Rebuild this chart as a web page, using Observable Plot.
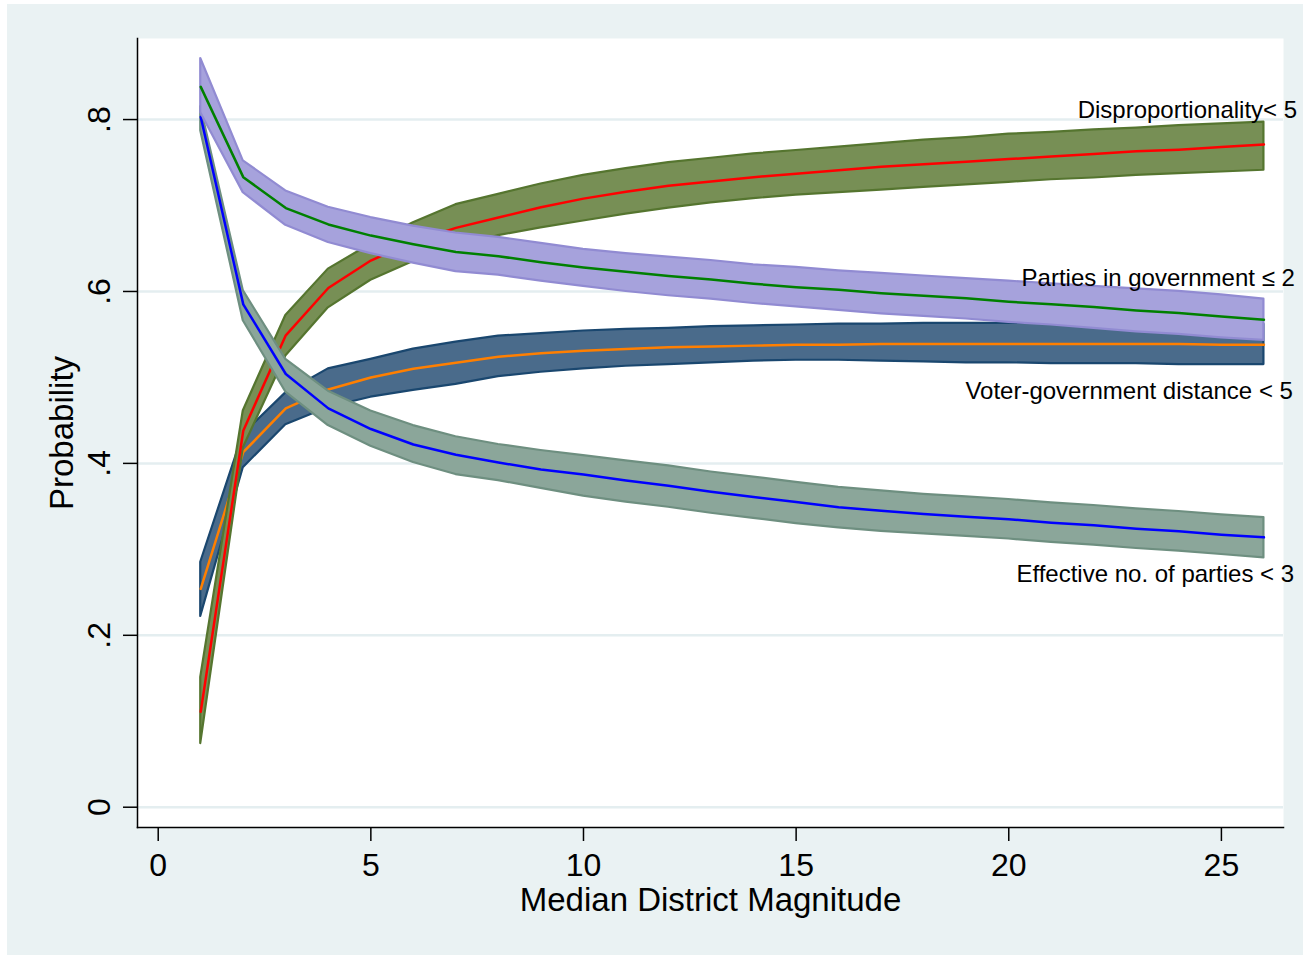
<!DOCTYPE html>
<html><head><meta charset="utf-8">
<script src="https://cdn.jsdelivr.net/npm/d3@7"></script>
<script src="https://cdn.jsdelivr.net/npm/@observablehq/plot@0.6"></script>
<style>
html,body{margin:0;padding:0;background:#fff;overflow:hidden;width:1303px;height:955px;}
#chart{position:absolute;left:7px;top:4px;}
</style></head><body><div id="chart"></div>
<script>
// Median district magnitude (x values)
const magnitude = [1,2,3,4,5,6,7,8,9,10,11,12,13,14,15,16,17,18,19,20,21,22,23,24,25,26];

// Disproportionality < 5
const dispMid = [0.111,0.438,0.549,0.604,0.636,0.658,0.674,0.686,0.698,0.708,0.716,0.723,0.728,0.733,0.737,0.741,0.745,0.748,0.751,0.754,0.757,0.760,0.763,0.765,0.768,0.771];
const dispHi  = [0.151,0.461,0.572,0.626,0.655,0.680,0.701,0.713,0.725,0.735,0.743,0.750,0.755,0.760,0.764,0.768,0.772,0.776,0.779,0.783,0.785,0.788,0.790,0.793,0.795,0.797];
const dispLo  = [0.074,0.418,0.525,0.581,0.613,0.635,0.650,0.665,0.674,0.682,0.690,0.697,0.703,0.708,0.712,0.715,0.718,0.721,0.724,0.727,0.730,0.732,0.735,0.737,0.739,0.741];

// Parties in government <= 2
const partMid = [0.838,0.733,0.697,0.678,0.665,0.655,0.646,0.641,0.634,0.628,0.623,0.618,0.614,0.609,0.605,0.602,0.598,0.595,0.592,0.588,0.585,0.582,0.578,0.575,0.571,0.567];
const partHi  = [0.871,0.752,0.717,0.698,0.686,0.676,0.668,0.663,0.656,0.649,0.644,0.640,0.636,0.631,0.628,0.624,0.621,0.618,0.615,0.612,0.609,0.606,0.603,0.600,0.596,0.591];
const partLo  = [0.808,0.715,0.677,0.657,0.644,0.633,0.623,0.619,0.612,0.606,0.600,0.595,0.591,0.586,0.582,0.578,0.574,0.571,0.568,0.564,0.561,0.557,0.553,0.550,0.546,0.543];

// Voter-government distance < 5
const voterMid = [0.254,0.413,0.464,0.486,0.500,0.510,0.517,0.524,0.528,0.531,0.533,0.535,0.536,0.537,0.538,0.538,0.539,0.539,0.539,0.539,0.539,0.539,0.539,0.539,0.538,0.538];
const voterHi  = [0.285,0.434,0.482,0.510,0.521,0.533,0.541,0.548,0.551,0.554,0.556,0.557,0.559,0.560,0.561,0.562,0.562,0.563,0.563,0.563,0.563,0.563,0.563,0.563,0.562,0.562];
const voterLo  = [0.222,0.395,0.445,0.465,0.477,0.485,0.492,0.501,0.506,0.510,0.513,0.515,0.517,0.519,0.520,0.520,0.519,0.518,0.517,0.517,0.516,0.516,0.516,0.515,0.515,0.515];

// Effective no. of parties < 3
const effMid = [0.803,0.585,0.504,0.464,0.440,0.422,0.410,0.401,0.393,0.387,0.380,0.374,0.367,0.361,0.355,0.349,0.345,0.341,0.338,0.335,0.331,0.328,0.324,0.321,0.317,0.314];
const effHi  = [0.815,0.601,0.521,0.484,0.461,0.444,0.431,0.422,0.415,0.409,0.403,0.397,0.390,0.384,0.378,0.372,0.368,0.364,0.361,0.358,0.354,0.351,0.347,0.344,0.340,0.337];
const effLo  = [0.787,0.566,0.483,0.444,0.420,0.401,0.387,0.380,0.371,0.362,0.355,0.349,0.342,0.336,0.330,0.325,0.321,0.318,0.315,0.312,0.308,0.305,0.301,0.298,0.294,0.290];

// Series labels and their anchor points (data units)
const labelText = ["Disproportionality< 5", "Parties in government \u2264 2", "Voter-government distance < 5", "Effective no. of parties < 3"];
const labelX = [21.62, 20.3, 18.98, 20.18];
const labelY = [0.8105, 0.615, 0.4836, 0.2708];

const xTicks = [0, 5, 10, 15, 20, 25];
const yTicks = [0, 0.2, 0.4, 0.6, 0.8];

const rows = (mid, lo, hi) => magnitude.map((x, i) => ({x, mid: mid[i], lo: lo[i], hi: hi[i]}));
const disp = rows(dispMid, dispLo, dispHi);
const part = rows(partMid, partLo, partHi);
const voter = rows(voterMid, voterLo, voterHi);
const eff = rows(effMid, effLo, effHi);
const labels = labelText.map((t, i) => ({t, x: labelX[i], y: labelY[i]}));

const band = (data, fill, stroke) => Plot.areaY(data, {x: "x", y1: "lo", y2: "hi", fill, stroke, strokeWidth: 2.2, fillOpacity: 1});
const line = (data, stroke) => Plot.line(data, {x: "x", y: "mid", stroke, strokeWidth: 2.5});

const yFmt = d => d === 0 ? "0" : d3.format(".1f")(d).replace(/^0/, "");

const chart = Plot.plot({
  width: 1296,
  height: 951,
  marginLeft: 130,
  marginRight: 20,
  marginTop: 34,
  marginBottom: 128,
  style: {background: "#eaf2f3", fontFamily: "'Liberation Sans', Arial, sans-serif", color: "black", overflow: "visible"},
  x: {domain: [-0.487, 26.46]},
  y: {domain: [-0.0236, 0.8943]},
  marks: [
    Plot.frame({fill: "white", stroke: "none"}),
    Plot.gridY(yTicks, {stroke: "#e4eef0", strokeOpacity: 1, strokeWidth: 2.5}),
    band(voter, "#4a6b8b", "#1a476f"),
    line(voter, "#ff7f00"),
    band(disp, "#778f55", "#55752f"),
    line(disp, "#ff0000"),
    band(eff, "#8ba69a", "#6e8f80"),
    line(eff, "#0000ff"),
    band(part, "#a6a2dc", "#918bd2"),
    line(part, "#008000"),
    Plot.frame({anchor: "left", stroke: "black", strokeWidth: 1.5}),
    Plot.frame({anchor: "bottom", stroke: "black", strokeWidth: 1.5}),
    Plot.axisY(yTicks, {tickFormat: yFmt, tickSize: 14, tickPadding: 14, tickRotate: -90, fontSize: 32, label: null, stroke: "black", strokeWidth: 1.5}),
    Plot.axisX(xTicks, {tickSize: 14, tickPadding: 12, fontSize: 32, label: null, stroke: "black", strokeWidth: 1.5}),
    Plot.text(["Median District Magnitude"], {frameAnchor: "bottom", dy: 83, lineAnchor: "bottom", fontSize: 33, fill: "black"}),
    Plot.text(["Probability"], {frameAnchor: "left", dx: -65, rotate: -90, textAnchor: "middle", lineAnchor: "bottom", fontSize: 33, fill: "black"}),
    Plot.text(labels, {x: "x", y: "y", text: "t", textAnchor: "start", lineAnchor: "middle", fontSize: 24, fill: "black"})
  ]
});
document.getElementById("chart").appendChild(chart);
</script></body></html>
